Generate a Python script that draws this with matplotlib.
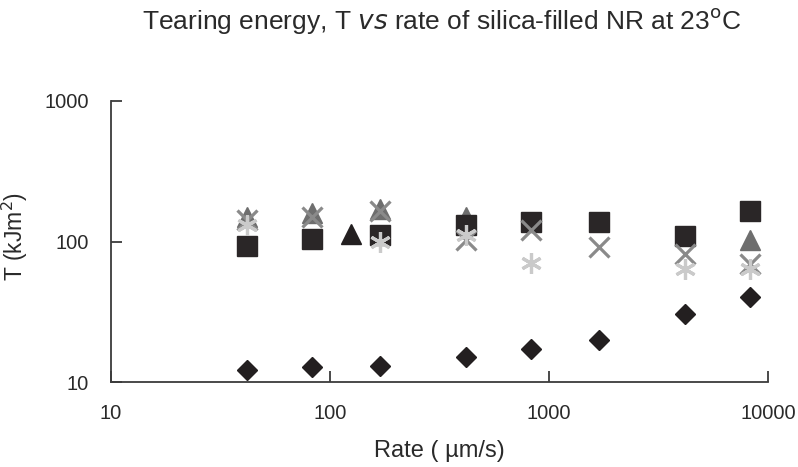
import numpy as np
import matplotlib
matplotlib.use("Agg")
import matplotlib.pyplot as plt

plt.rcParams['font.family'] = ['Liberation Sans', 'DejaVu Sans']

rate = [42, 83, 170, 420, 830, 1700, 4200, 8300]
t_square = [93, 104, 112, 132, 138, 137, 109, 166]
t_triangle = [150, 160, 170, 150, np.nan, np.nan, np.nan, 103]
t_cross = [142, 149, 165, 102, 121, 91, 82, 69]
t_aster = [132, np.nan, 100, 112, 70, np.nan, 64, 64]
t_diamond = [12.2, 12.8, 12.9, 15.1, 17.2, 19.9, 30.5, 40]
rate_single = [125]
t_single = [114]

fig = plt.figure(figsize=(7.98, 4.67), dpi=100)
ax = fig.add_axes([111/798, 1-382/467, (768-111)/798, (382-101)/467])

ax.plot(rate, t_triangle, ls='none', marker='^', ms=14, color='#6e6e6e', mec='#6e6e6e')
ax.plot(rate, t_square, ls='none', marker='s', ms=14, color='#2a2627', mec='#2a2627')
ax.plot(rate, t_cross, ls='none', marker='x', ms=14, mew=2.3, color='#8a8a8a')
ax.plot(rate, t_aster, ls='none', marker=(6, 2, 0), ms=15, mew=2.3, color='#cacaca')
ax.plot(rate, t_diamond, ls='none', marker='D', ms=10, color='#231f20')
ax.plot(rate_single, t_single, ls='none', marker='^', ms=14, color='#231f20')

ax.set_xscale('log')
ax.set_yscale('log')
ax.set_xlim(10, 10000)
ax.set_ylim(10, 1000)
ax.set_xticks([10, 100, 1000, 10000])
ax.set_xticklabels(['10', '100', '1000', '10000'])
ax.set_yticks([10, 100, 1000])
ax.set_yticklabels(['10', '100', '1000'])
ax.minorticks_off()
for s in ['top', 'right']:
    ax.spines[s].set_visible(False)
for s in ['left', 'bottom']:
    ax.spines[s].set_color('#3c3c3c')
    ax.spines[s].set_linewidth(1.3)
ax.tick_params(axis='both', direction='in', length=8, width=1.3, color='#3c3c3c',
               labelsize=14.5, labelcolor='#2a2a2a')
ax.tick_params(axis='x', pad=16)
ax.tick_params(axis='y', pad=16)

fig.text(442/798, 0.955, r'Tearing energy, T $\mathit{vs}$ rate of silica-filled NR at 23$^{\rm o}$C',
         ha='center', va='center', fontsize=19, color='#2a2a2a')
ax.set_xlabel('Rate ( µm/s)', fontsize=17, color='#2a2a2a', labelpad=12)
fig.text(15/798, 1-236/467, 'T (kJm$^2$)', rotation=90, ha='center', va='center',
         fontsize=16.5, color='#2a2a2a')

fig.savefig('out.png', dpi=100)
